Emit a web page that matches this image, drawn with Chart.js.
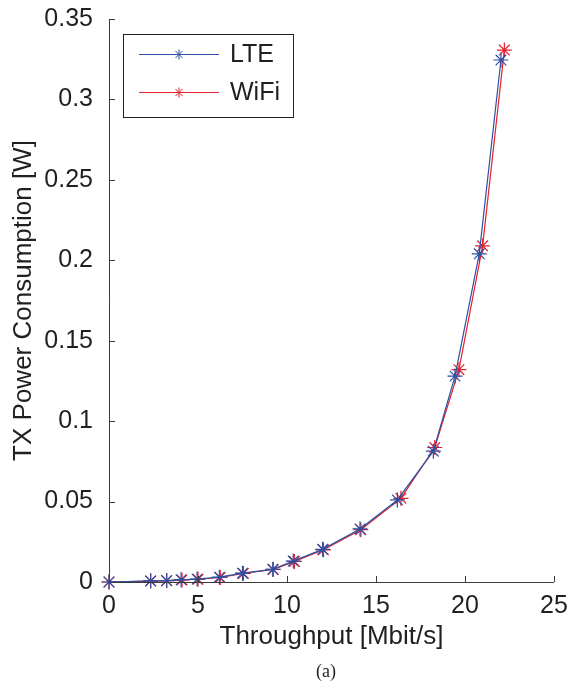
<!DOCTYPE html>
<html lang="en">
<head>
    <meta charset="UTF-8">
    <title>TX Power Consumption</title>
    <script src="https://cdn.jsdelivr.net/npm/chart.js"></script>
    <style>
        html, body { margin: 0; padding: 0; background: #fff; }
        #wrap { position: relative; width: 570px; height: 688px; }
    </style>
</head>
<body>
    <div id="wrap">
        <canvas id="powerChart" width="570" height="688"></canvas>
    </div>

    <script>
        // Values
        const lteThroughput = [0, 2.34, 3.24, 4.05, 4.95, 6.2, 7.5, 9.2, 10.35, 12.0, 14.1, 16.2, 18.22, 19.44, 20.8, 22.02];
        const ltePower = [0, 0.0007, 0.0009, 0.0014, 0.0018, 0.003, 0.0055, 0.0079, 0.013, 0.0203, 0.033, 0.051, 0.0813, 0.128, 0.204, 0.3245];

        const wifiThroughput = [0, 2.34, 3.24, 4.1, 5.0, 6.25, 7.55, 9.23, 10.42, 12.05, 14.15, 16.4, 18.3, 19.66, 20.99, 22.21];
        const wifiPower = [0, 0.0006, 0.0008, 0.0013, 0.0017, 0.0028, 0.0053, 0.0078, 0.0128, 0.02, 0.0325, 0.052, 0.0836, 0.132, 0.209, 0.3307];

        const xTicks = [0, 5, 10, 15, 20, 25];
        const xTickLabels = ['0', '5', '10', '15', '20', '25'];
        const yTicks = [0, 0.05, 0.1, 0.15, 0.2, 0.25, 0.3, 0.35];
        const yTickLabels = ['0', '0.05', '0.1', '0.15', '0.2', '0.25', '0.3', '0.35'];

        const textColor = '#231f20';
        const axisColor = '#3a3a3a';
        const sans = '"Liberation Sans", Arial, sans-serif';

        function toPoints(xs, ys) {
            return xs.map((x, i) => ({ x: x, y: ys[i] }));
        }

        // Left and bottom axes with inward tick marks (matlab look)
        const axesPlugin = {
            id: 'axesPlugin',
            afterDraw(chart) {
                const ctx = chart.ctx;
                const area = chart.chartArea;
                const xs = chart.scales.x;
                const ys = chart.scales.y;
                const tick = 6;
                ctx.save();
                ctx.strokeStyle = axisColor;
                ctx.lineWidth = 1;
                ctx.beginPath();
                ctx.moveTo(area.left + 0.5, area.top);
                ctx.lineTo(area.left + 0.5, area.bottom + 0.5);
                ctx.lineTo(area.right, area.bottom + 0.5);
                xTicks.forEach(v => {
                    const px = Math.round(xs.getPixelForValue(v)) + 0.5;
                    ctx.moveTo(px, area.bottom);
                    ctx.lineTo(px, area.bottom - tick);
                });
                yTicks.forEach(v => {
                    const py = Math.round(ys.getPixelForValue(v)) + 0.5;
                    ctx.moveTo(area.left, py);
                    ctx.lineTo(area.left + tick, py);
                });
                ctx.stroke();
                ctx.restore();
            }
        };

        // Boxed legend in the upper left corner, plus the "(a)" caption
        const boxLegend = {
            id: 'boxLegend',
            afterDraw(chart) {
                const ctx = chart.ctx;
                const left = 123, top = 34, w = 170, h = 83;
                ctx.save();
                ctx.fillStyle = '#fff';
                ctx.fillRect(left, top, w, h);
                ctx.strokeStyle = '#222';
                ctx.lineWidth = 1;
                ctx.strokeRect(left + 0.5, top + 0.5, w, h);
                chart.data.datasets.forEach((ds, i) => {
                    const y = top + 20.5 + i * 38;
                    ctx.strokeStyle = ds.borderColor;
                    ctx.beginPath();
                    ctx.moveTo(139, y);
                    ctx.lineTo(219, y);
                    ctx.stroke();
                    Chart.helpers.drawPoint(ctx, { pointStyle: 'star', radius: 5, borderWidth: 1 }, 179, y);
                    ctx.fillStyle = textColor;
                    ctx.font = '25px ' + sans;
                    ctx.textBaseline = 'middle';
                    ctx.textAlign = 'left';
                    ctx.fillText(ds.label, 230, y + 1);
                });
                ctx.fillStyle = textColor;
                ctx.font = '18px "Liberation Serif", "Times New Roman", serif';
                ctx.textAlign = 'center';
                ctx.textBaseline = 'middle';
                ctx.fillText('(a)', 326, 672);
                ctx.restore();
            }
        };

        const ctx = document.getElementById('powerChart').getContext('2d');
        const powerChart = new Chart(ctx, {
            type: 'scatter',
            data: {
                datasets: [
                    {
                        label: 'LTE',
                        data: toPoints(lteThroughput, ltePower),
                        borderColor: '#2c50a3',
                        backgroundColor: '#2c50a3',
                        showLine: true,
                        borderWidth: 1.2,
                        pointStyle: 'star',
                        pointRadius: 7.5,
                        pointBorderWidth: 1.2,
                        clip: false
                    },
                    {
                        label: 'WiFi',
                        data: toPoints(wifiThroughput, wifiPower),
                        borderColor: '#e6202c',
                        backgroundColor: '#e6202c',
                        showLine: true,
                        borderWidth: 1.2,
                        pointStyle: 'star',
                        pointRadius: 7.5,
                        pointBorderWidth: 1.2,
                        clip: false
                    }
                ]
            },
            options: {
                responsive: false,
                animation: false,
                layout: { padding: { top: 19, right: 16, bottom: 36, left: 8 } },
                plugins: {
                    legend: { display: false },
                    tooltip: { enabled: false }
                },
                scales: {
                    x: {
                        type: 'linear',
                        min: 0,
                        max: 25,
                        grid: { display: false },
                        border: { display: false },
                        afterBuildTicks: s => { s.ticks = xTicks.map(v => ({ value: v })); },
                        afterFit: s => {
                            s.height = 688 - 36 - 582;
                            s.paddingLeft = 0;
                            s.paddingRight = 0;
                        },
                        ticks: {
                            color: textColor,
                            padding: 1,
                            maxRotation: 0,
                            font: { family: sans, size: 25 },
                            callback: (v, i) => xTickLabels[i]
                        },
                        title: {
                            display: true,
                            text: 'Throughput [Mbit/s]',
                            color: textColor,
                            padding: 0,
                            font: { family: sans, size: 26 }
                        }
                    },
                    y: {
                        type: 'linear',
                        min: 0,
                        max: 0.35,
                        grid: { display: false },
                        border: { display: false },
                        afterBuildTicks: s => { s.ticks = yTicks.map(v => ({ value: v })); },
                        afterFit: s => {
                            s.width = 109 - 8;
                            s.paddingTop = 0;
                            s.paddingBottom = 0;
                        },
                        ticks: {
                            color: textColor,
                            padding: 8,
                            font: { family: sans, size: 25 },
                            callback: (v, i) => yTickLabels[i]
                        },
                        title: {
                            display: true,
                            text: 'TX Power Consumption [W]',
                            color: textColor,
                            padding: 0,
                            font: { family: sans, size: 26 }
                        }
                    }
                }
            },
            plugins: [axesPlugin, boxLegend]
        });
    </script>
</body>
</html>
